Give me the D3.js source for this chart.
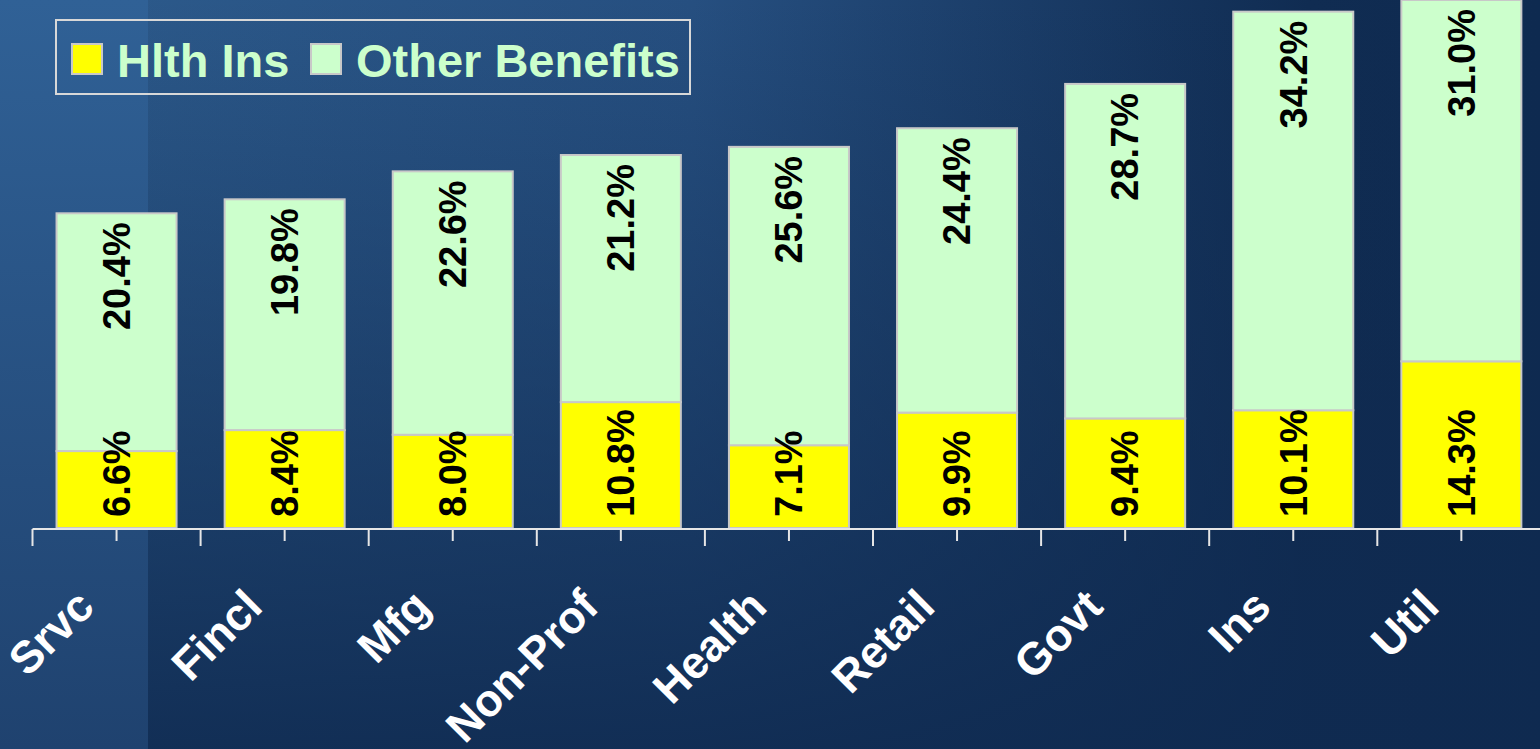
<!DOCTYPE html>
<html>
<head>
<meta charset="utf-8">
<script src="https://cdn.jsdelivr.net/npm/d3@7"></script>
<style>
  html, body { margin: 0; padding: 0; background: #0f2b50; overflow: hidden; }
  svg { display: block; font-family: Arial, "Liberation Sans", sans-serif; font-weight: bold; }
</style>
</head>
<body>
<script>
// chart data
var categories = ['Srvc', 'Fincl', 'Mfg', 'Non-Prof', 'Health', 'Retail', 'Govt', 'Ins', 'Util'];
var hlthIns = [6.6, 8.4, 8.0, 10.8, 7.1, 9.9, 9.4, 10.1, 14.3];
var otherBenefits = [20.4, 19.8, 22.6, 21.2, 25.6, 24.4, 28.7, 34.2, 31.0];
var seriesNames = ['Hlth Ins', 'Other Benefits'];
var seriesColors = ['#ffff00', '#ccffcc'];

var width = 1540, height = 749;

var svg = d3.select('body').append('svg')
  .attr('width', width)
  .attr('height', height);

// background gradients
var defs = svg.append('defs');
var bgH = defs.append('linearGradient').attr('id', 'bgH')
  .attr('x1', 0).attr('y1', 0).attr('x2', 1).attr('y2', 0);
bgH.append('stop').attr('offset', '0%').attr('stop-color', '#2d5b8c');
bgH.append('stop').attr('offset', '45%').attr('stop-color', '#264f80');
bgH.append('stop').attr('offset', '85%').attr('stop-color', '#102c52');
bgH.append('stop').attr('offset', '100%').attr('stop-color', '#0e2a50');

var bgV = defs.append('linearGradient').attr('id', 'bgV')
  .attr('x1', 0).attr('y1', 0).attr('x2', 0).attr('y2', 1);
bgV.append('stop').attr('offset', '0%').attr('stop-color', '#0f2a50').attr('stop-opacity', 0);
bgV.append('stop').attr('offset', '100%').attr('stop-color', '#0f2a50').attr('stop-opacity', 0.9);

var bgL = defs.append('linearGradient').attr('id', 'bgL')
  .attr('x1', 0).attr('y1', 0).attr('x2', 0).attr('y2', 1);
bgL.append('stop').attr('offset', '0%').attr('stop-color', '#306196');
bgL.append('stop').attr('offset', '100%').attr('stop-color', '#1f426f');

svg.append('rect').attr('width', width).attr('height', height).attr('fill', 'url(#bgH)');
svg.append('rect').attr('width', width).attr('height', height).attr('fill', 'url(#bgV)');
svg.append('rect').attr('width', 148).attr('height', height).attr('fill', 'url(#bgL)');

// scales
var x = d3.scaleBand()
  .domain(categories)
  .range([32.5, 32.5 + 9 * 168.1])
  .paddingInner(0.286)
  .paddingOuter(0.143);

var y = d3.scaleLinear()
  .domain([0, 45.3])
  .range([528, 0]);

var rows = categories.map(function (c, i) {
  return { cat: c, hlth: hlthIns[i], other: otherBenefits[i] };
});
var stacked = d3.stack().keys(['hlth', 'other'])(rows);

// bars
svg.append('g').selectAll('g')
  .data(stacked)
  .enter().append('g')
  .attr('fill', function (d, i) { return seriesColors[i]; })
  .selectAll('rect')
  .data(function (d) { return d; })
  .enter().append('rect')
  .attr('x', function (d) { return x(d.data.cat); })
  .attr('y', function (d) { return y(d[1]); })
  .attr('width', x.bandwidth())
  .attr('height', function (d) { return y(d[0]) - y(d[1]); })
  .attr('stroke', '#c8c8c8')
  .attr('stroke-width', 2);

// value labels
var hw = x.bandwidth() / 2;
svg.append('g').selectAll('text')
  .data(rows)
  .enter().append('text')
  .attr('transform', function (d) { return 'translate(' + (x(d.cat) + hw) + ',' + (y(0) - 11) + ') rotate(-90)'; })
  .attr('dy', '0.35em')
  .attr('font-size', 38)
  .attr('fill', '#000')
  .text(function (d) { return d.hlth.toFixed(1) + '%'; });

svg.append('g').selectAll('text')
  .data(rows)
  .enter().append('text')
  .attr('transform', function (d) { return 'translate(' + (x(d.cat) + hw) + ',' + (y(d.hlth + d.other) + 9) + ') rotate(-90)'; })
  .attr('dy', '0.35em')
  .attr('text-anchor', 'end')
  .attr('font-size', 38)
  .attr('fill', '#000')
  .text(function (d) { return d.other.toFixed(1) + '%'; });

// axis
var step = x.step();
var axis = svg.append('g').attr('stroke', '#e6e6e6').attr('stroke-width', 2);
axis.append('line')
  .attr('x1', 32.5).attr('x2', width)
  .attr('y1', 529).attr('y2', 529);
axis.selectAll('.major')
  .data(categories)
  .enter().append('line')
  .attr('class', 'major')
  .attr('x1', function (d) { return x(d) - step * 0.143; })
  .attr('x2', function (d) { return x(d) - step * 0.143; })
  .attr('y1', 529).attr('y2', 546);
axis.selectAll('.minor')
  .data(categories)
  .enter().append('line')
  .attr('class', 'minor')
  .attr('x1', function (d) { return x(d) + hw; })
  .attr('x2', function (d) { return x(d) + hw; })
  .attr('y1', 529).attr('y2', 541);

// category labels
svg.append('g').selectAll('text')
  .data(categories)
  .enter().append('text')
  .attr('transform', function (d) { return 'translate(' + (x(d) + hw - 20) + ',609) rotate(-45)'; })
  .attr('text-anchor', 'end')
  .attr('font-size', 45)
  .attr('fill', '#ffffff')
  .text(function (d) { return d; });

// legend
var legend = svg.append('g');
legend.append('rect')
  .attr('x', 56).attr('y', 20)
  .attr('width', 634).attr('height', 74)
  .attr('fill', 'none')
  .attr('stroke', '#d8d8d8')
  .attr('stroke-width', 2);
var legX = [71, 310];
var items = legend.selectAll('g')
  .data(seriesNames)
  .enter().append('g')
  .attr('transform', function (d, i) { return 'translate(' + legX[i] + ',0)'; });
items.append('rect')
  .attr('x', 1).attr('y', 44)
  .attr('width', 30).attr('height', 30)
  .attr('fill', function (d, i) { return seriesColors[i]; })
  .attr('stroke', '#c8c8c8')
  .attr('stroke-width', 2);
items.append('text')
  .attr('x', 46).attr('y', 77)
  .attr('font-size', 47)
  .attr('fill', '#ccffcc')
  .text(function (d) { return d; });
</script>
</body>
</html>
